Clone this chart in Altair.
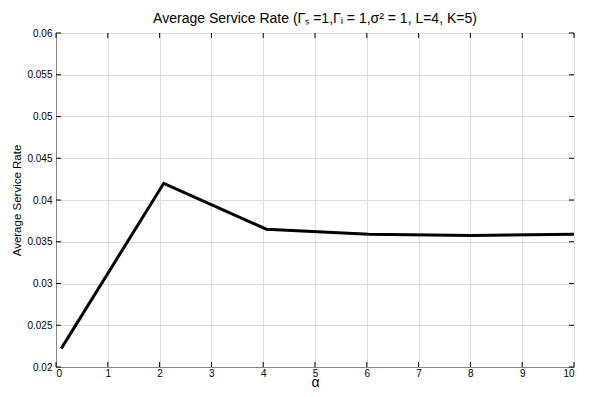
import altair as alt
import pandas as pd

# data
alpha = [0.1, 2.08, 4.06, 6.04, 8.02, 10.0]
rate = [0.0222, 0.0420, 0.0365, 0.0359, 0.03575, 0.0359]
x_ticks = [0, 1, 2, 3, 4, 5, 6, 7, 8, 9, 10]
y_ticks = [0.02, 0.025, 0.03, 0.035, 0.04, 0.045, 0.05, 0.055, 0.06]

W, H = 518, 334
FONT = "Liberation Sans"
TL = 5

df = pd.DataFrame({"alpha": alpha, "rate": rate})
xt = pd.DataFrame({"v": x_ticks})
yt = pd.DataFrame({"v": y_ticks})

xs = alt.Scale(domain=[0, 10], nice=False, zero=False)
ys = alt.Scale(domain=[0.02, 0.06], nice=False, zero=False)

line = alt.Chart(df).mark_line(color="black", strokeWidth=3).encode(
    x=alt.X("alpha:Q", scale=xs,
            axis=alt.Axis(values=x_ticks, title="α", format="d", ticks=False,
                          titleFontSize=14, titleFont=FONT, titleFontWeight="normal",
                          titleX=W / 2, titleY=22, titleBaseline="bottom",
                          titleAlign="center", labelPadding=1)),
    y=alt.Y("rate:Q", scale=ys,
            axis=alt.Axis(values=y_ticks, title="Average Service Rate", format=".3~f",
                          ticks=False,
                          titleFontSize=11.5, titleFont=FONT, titleFontWeight="normal",
                          titleX=-39, titleY=H / 2, titleBaseline="middle",
                          titleAlign="center", titleAngle=270, labelPadding=4)),
)

tb = alt.Chart(xt).mark_rule(color="black", strokeWidth=1).encode(
    x=alt.X("v:Q", scale=xs), y=alt.value(H), y2=alt.value(H - TL))
tt = alt.Chart(xt).mark_rule(color="black", strokeWidth=1).encode(
    x=alt.X("v:Q", scale=xs), y=alt.value(0), y2=alt.value(TL))
tl = alt.Chart(yt).mark_rule(color="black", strokeWidth=1).encode(
    y=alt.Y("v:Q", scale=ys), x=alt.value(0), x2=alt.value(TL))
tr = alt.Chart(yt).mark_rule(color="black", strokeWidth=1).encode(
    y=alt.Y("v:Q", scale=ys), x=alt.value(W), x2=alt.value(W - TL))

chart = alt.layer(line, tb, tt, tl, tr).properties(
    width=W, height=H,
    autosize=alt.AutoSizeParams(type="none"),
    padding={"left": 48, "top": 25, "right": 14, "bottom": 22},
    title=alt.TitleParams(
        "Average Service Rate (Γₛ =1,Γᵢ = 1,σ² = 1, L=4, K=5)",
        font=FONT, fontSize=14, fontWeight="normal", color="black",
        anchor="middle", offset=2),
).configure_view(
    stroke="black", strokeWidth=1.2
).configure_axis(
    labelFont=FONT, labelFontSize=9.5, labelColor="black",
    titleColor="black",
    tickSize=0, domainColor="black", domainWidth=1.2,
    grid=True, gridColor="#666666", gridDash=[1, 2], gridWidth=1, gridOpacity=1,
).configure(background="white")

chart.save("out.html", embed_options={"renderer": "svg", "actions": False})
